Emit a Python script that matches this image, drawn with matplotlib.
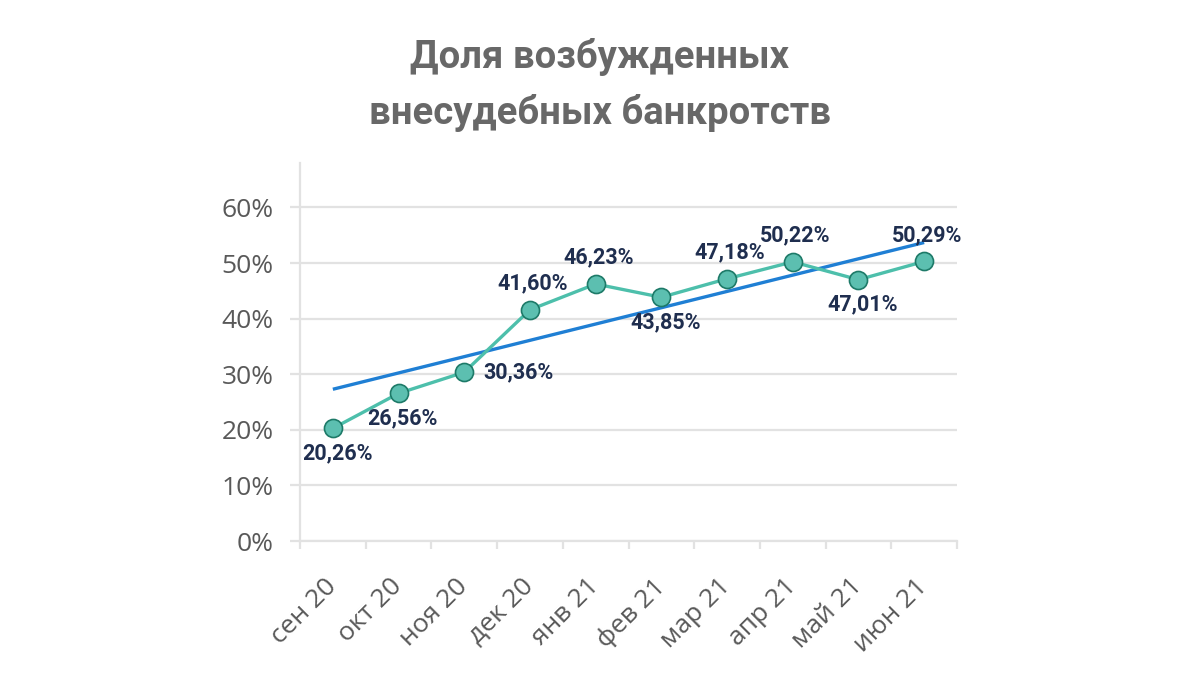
import matplotlib
matplotlib.use("Agg")
import matplotlib.pyplot as plt
import numpy as np

# ---------- data ----------
months = ["сен 20", "окт 20", "ноя 20", "дек 20", "янв 21",
          "фев 21", "мар 21", "апр 21", "май 21", "июн 21"]
share = [20.26, 26.56, 30.36, 41.60, 46.23, 43.85, 47.18, 50.22, 47.01, 50.29]
# trend line ends, at first and last month
trend_ends = [27.3, 53.7]
# where each data label sits relative to its point
label_side = ["below", "below", "right", "above", "above",
              "below", "above", "above", "below", "above"]

TITLE = "Доля возбужденных\nвнесудебных банкротств"

GRID = "#e2e2e2"
TICK_TXT = "#595959"
LINE_C = "#4dbfab"
FACE_C = "#5cbfb0"
EDGE_C = "#1d7a68"
TREND_C = "#1f7fd4"
LABEL_C = "#1f2e4f"

fig = plt.figure(figsize=(12, 6.75), dpi=100)
ax = fig.add_axes([0.25, 0.1985, 0.5475, 0.56])

x = np.arange(len(months))
y = np.array(share) / 100

ax.plot([x[0], x[-1]], np.array(trend_ends) / 100, color=TREND_C, lw=2.4,
        solid_capstyle="butt", zorder=3)
ax.plot(x, y, color=LINE_C, lw=2.4, marker="o", ms=13,
        markerfacecolor=FACE_C, markeredgecolor=EDGE_C, markeredgewidth=1.2,
        zorder=4, clip_on=False)

# (dx, dy) in points for each label side
offsets = {"below": (3, -18), "above": (2, 19), "right": (39, 0)}
for xi, yi, v, side in zip(x, y, share, label_side):
    dx, dy = offsets[side]
    ax.annotate(f"{v:.2f}%".replace(".", ","), (xi, yi), xytext=(dx, dy),
                textcoords="offset points", ha="center", va="center",
                fontsize=15.5, fontweight="bold", color=LABEL_C, zorder=5,
                family=["Roboto", "DejaVu Sans"])

# axes styling
ax.set_xlim(-0.5, len(months) - 0.5)
ax.set_ylim(0, 0.68)
yt = np.arange(0, 0.61, 0.1)
ax.set_yticks(yt)
ax.set_yticklabels([f"{int(round(t * 100))}%" for t in yt])
ax.yaxis.grid(True, color=GRID, lw=1.6)
ax.set_axisbelow(True)

ax.set_xticks(np.arange(-0.5, len(months), 1.0))
ax.set_xticklabels([])
ax.set_xticks(x, minor=True)
ax.set_xticklabels(months, minor=True, rotation=45, ha="right", va="center",
                   rotation_mode="anchor")
ax.tick_params(axis="x", which="major", length=6, width=1.6, color=GRID)
ax.tick_params(axis="x", which="minor", length=0, pad=30, labelsize=19,
               labelcolor=TICK_TXT)
ax.tick_params(axis="y", length=7, width=1.6, color=GRID, pad=12,
               labelsize=19, labelcolor=TICK_TXT)

for s in ["top", "right"]:
    ax.spines[s].set_visible(False)
ax.spines["left"].set_color(GRID)
ax.spines["left"].set_linewidth(1.6)
ax.spines["bottom"].set_color(GRID)
ax.spines["bottom"].set_linewidth(1.6)

for lab in ax.get_xticklabels(minor=True) + ax.get_yticklabels():
    lab.set_family(["Open Sans", "DejaVu Sans"])

fig.text(0.5, 0.8748, TITLE, ha="center", va="center", fontsize=27.5,
         fontweight="bold", color="#686868", linespacing=1.6,
         family=["Roboto", "DejaVu Sans"])

fig.savefig("out.png", dpi=100, facecolor="white")
